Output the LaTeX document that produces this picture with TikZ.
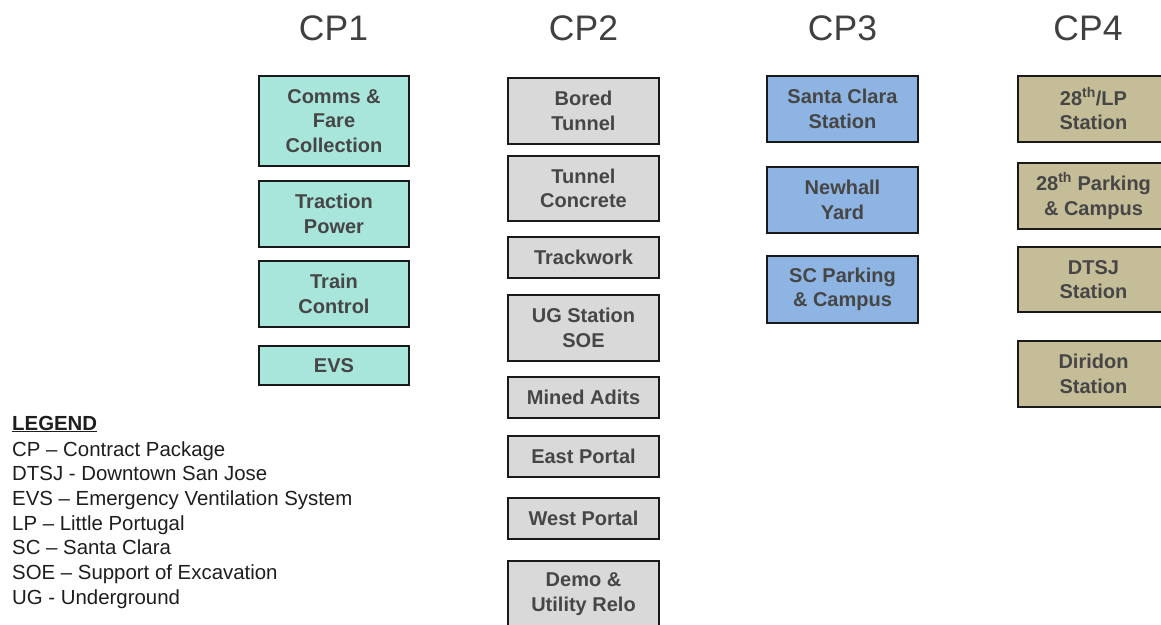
\documentclass[tikz,border=0pt]{standalone}
\usepackage{fontspec}
\setmainfont{Liberation Sans}
\definecolor{cpone}{RGB}{168,230,219}
\definecolor{cptwo}{RGB}{217,217,217}
\definecolor{cpthree}{RGB}{141,180,226}
\definecolor{cpfour}{RGB}{196,189,151}
\definecolor{boxtext}{RGB}{70,70,70}
\definecolor{titletext}{RGB}{64,64,64}
\definecolor{legendtext}{RGB}{30,30,30}
\tikzset{
  pkgbox/.style={draw=black!90, line width=1.4pt, minimum width=151pt, inner sep=0pt,
    align=center, text=boxtext, font=\bfseries\fontsize{20}{24.5}\selectfont},
  cpa/.style={pkgbox, fill=cpone, minimum width=150pt},
  cpb/.style={pkgbox, fill=cptwo},
  cpc/.style={pkgbox, fill=cpthree},
  cpd/.style={pkgbox, fill=cpfour},
  cptitle/.style={anchor=base, text=titletext, font=\fontsize{35.5}{40}\selectfont},
  legline/.style={anchor=base west, inner sep=0pt, text=legendtext, font=\fontsize{20.4}{24}\selectfont}
}
\begin{document}
\begin{tikzpicture}[x=1pt, y=-1pt]
\useasboundingbox[fill=white] (0,0) rectangle (1161,624);
\clip (0,0) rectangle (1161,624);

% column headings
\node[cptitle] (t1) at (333.5,40) {CP1};
\node[cptitle] (t2) at (583.5,40) {CP2};
\node[cptitle] (t3) at (842.5,40) {CP3};
\node[cptitle] (t4) at (1088,40) {CP4};

% CP1 packages
\node[cpa, minimum height=90pt] (comms) at (334,121) {Comms \&\\Fare\\Collection};
\node[cpa, minimum height=66pt] (traction) at (334,214) {Traction\\Power};
\node[cpa, minimum height=66pt] (train) at (334,294) {Train\\Control};
\node[cpa, minimum height=39pt] (evs) at (334,365.5) {EVS};

% CP2 packages
\node[cpb, minimum height=66pt] (bored) at (583.5,111) {Bored\\Tunnel};
\node[cpb, minimum height=65pt] (concrete) at (583.5,188.5) {Tunnel\\Concrete};
\node[cpb, minimum height=41pt] (track) at (583.5,257.5) {Trackwork};
\node[cpb, minimum height=66pt] (ugsoe) at (583.5,328) {UG Station\\SOE};
\node[cpb, minimum height=41pt] (adits) at (583.5,397.5) {Mined Adits};
\node[cpb, minimum height=41pt] (east) at (583.5,456.5) {East Portal};
\node[cpb, minimum height=41pt] (west) at (583.5,518.5) {West Portal};
\node[cpb, minimum height=66pt] (demo) at (583.5,594) {Demo \&\\Utility Relo};

% CP3 packages
\node[cpc, minimum height=66pt] (scstation) at (842.5,109) {Santa Clara\\Station};
\node[cpc, minimum height=66pt] (newhall) at (842.5,200) {Newhall\\Yard};
\node[cpc, minimum height=67pt] (scparking) at (842.5,289.5) {SC Parking\\\& Campus};

% CP4 packages
\node[cpd, minimum height=66pt] (lpstation) at (1093.5,109) {28\textsuperscript{th}/LP\\Station};
\node[cpd, minimum height=66pt] (parking) at (1093.5,196) {28\textsuperscript{th} Parking\\\& Campus};
\node[cpd, minimum height=65pt] (dtsj) at (1093.5,279.5) {DTSJ\\Station};
\node[cpd, minimum height=66pt] (diridon) at (1093.5,374) {Diridon\\Station};

% legend
\node[legline, font=\bfseries\fontsize{20.4}{24}\selectfont] (leghead) at (12,430) {\underline{LEGEND}};
\node[legline] (l1) at (12,456) {CP – Contract Package};
\node[legline] (l2) at (12,480.7) {DTSJ - Downtown San Jose};
\node[legline] (l3) at (12,505.3) {EVS – Emergency Ventilation System};
\node[legline] (l4) at (12,530) {LP – Little Portugal};
\node[legline] (l5) at (12,554.7) {SC – Santa Clara};
\node[legline] (l6) at (12,579.3) {SOE – Support of Excavation};
\node[legline] (l7) at (12,604) {UG - Underground};
\end{tikzpicture}
\end{document}
